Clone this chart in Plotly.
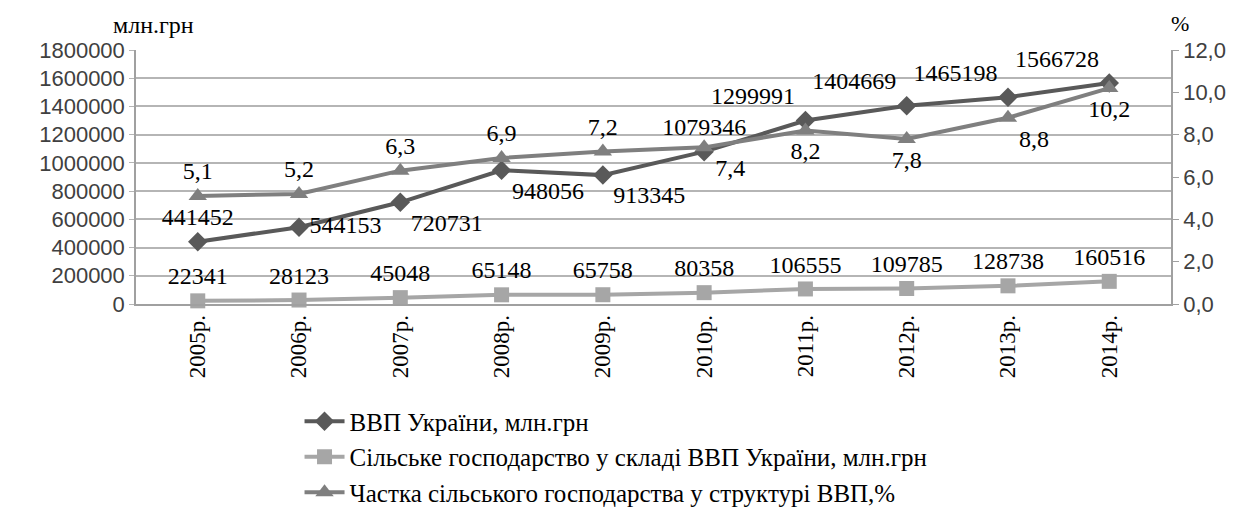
import plotly.graph_objects as go

years = ["2005р.", "2006р.", "2007р.", "2008р.", "2009р.", "2010р.", "2011р.", "2012р.", "2013р.", "2014р."]
gdp = [441452, 544153, 720731, 948056, 913345, 1079346, 1299991, 1404669, 1465198, 1566728]
agri = [22341, 28123, 45048, 65148, 65758, 80358, 106555, 109785, 128738, 160516]
share = [5.1, 5.2, 6.3, 6.9, 7.2, 7.4, 8.2, 7.8, 8.8, 10.2]
share_labels = ["5,1", "5,2", "6,3", "6,9", "7,2", "7,4", "8,2", "7,8", "8,8", "10,2"]

gdp_pos = ["top center", "middle right", "bottom right", "bottom right", "bottom right",
           "top center", "top left", "top left", "top left", "top left"]
share_pos = ["top center", "top center", "top center", "top center", "top center",
             "bottom right", "bottom center", "bottom center", "bottom right", "bottom center"]

serif = "Liberation Serif, Times New Roman, DejaVu Serif, serif"
sans = "Liberation Sans, Arial, sans-serif"
lab_font = dict(family=serif, size=24, color="black")

fig = go.Figure()
fig.add_trace(go.Scatter(
    x=years, y=gdp, name="ВВП України, млн.грн", mode="lines+markers+text",
    line=dict(color="#595959", width=4), marker=dict(symbol="diamond", size=15, color="#595959"),
    text=[str(v) for v in gdp], textposition=gdp_pos, textfont=lab_font, cliponaxis=False))
fig.add_trace(go.Scatter(
    x=years, y=agri, name="Сільське господарство у складі ВВП України, млн.грн", mode="lines+markers+text",
    line=dict(color="#a6a6a6", width=4), marker=dict(symbol="square", size=15, color="#a6a6a6"),
    text=[str(v) for v in agri], textposition="top center", textfont=lab_font, cliponaxis=False))
fig.add_trace(go.Scatter(
    x=years, y=share, name="Частка сільського господарства у структурі ВВП,%", mode="lines+markers+text",
    yaxis="y2",
    line=dict(color="#7f7f7f", width=4), marker=dict(symbol="triangle-up", size=16, color="#7f7f7f"),
    text=share_labels, textposition=share_pos, textfont=lab_font, cliponaxis=False))

fig.update_layout(
    width=1238, height=520,
    margin=dict(l=128, r=75, t=42, b=197),
    paper_bgcolor="white", plot_bgcolor="white",
    separators=", ",
    showlegend=True,
    legend=dict(x=0.158, y=-0.372, xanchor="left", yanchor="top", orientation="v",
                font=dict(family=serif, size=25, color="black"), tracegroupgap=0,
                bgcolor="rgba(0,0,0,0)", itemwidth=40),
    xaxis=dict(tickangle=-90, tickfont=dict(family=serif, size=23, color="black"),
               showline=True, linecolor="#a0a0a0", linewidth=1.5, showgrid=False,
               ticks="", zeroline=False, automargin=False),
    yaxis=dict(range=[0, 1800000], dtick=200000, tickformat="d",
               tickfont=dict(family=sans, size=22, color="#404040"),
               showgrid=True, gridcolor="#b5b5b5", gridwidth=1.5,
               showline=True, linecolor="#a0a0a0", linewidth=1.5, zeroline=False,
               automargin=False, ticks="outside", ticklen=5, tickcolor="#b5b5b5"),
    yaxis2=dict(range=[0, 12], dtick=2, tickformat=".1f", overlaying="y", side="right",
                tickfont=dict(family=sans, size=22, color="#404040"),
                showgrid=False, showline=True, linecolor="#a0a0a0", linewidth=1.5,
                ticks="outside", ticklen=6, tickcolor="#a0a0a0", zeroline=False, automargin=False),
    annotations=[
        dict(text="млн.грн", xref="paper", yref="paper", x=0.017, y=1.0, xanchor="center", yanchor="bottom",
             showarrow=False, font=dict(family=serif, size=24, color="black"), yshift=10),
        dict(text="%", xref="paper", yref="paper", x=1.0, y=1.0, xanchor="center", yanchor="bottom",
             showarrow=False, font=dict(family=serif, size=22, color="black"), xshift=9, yshift=12),
    ],
)

fig.write_html("out.html")
